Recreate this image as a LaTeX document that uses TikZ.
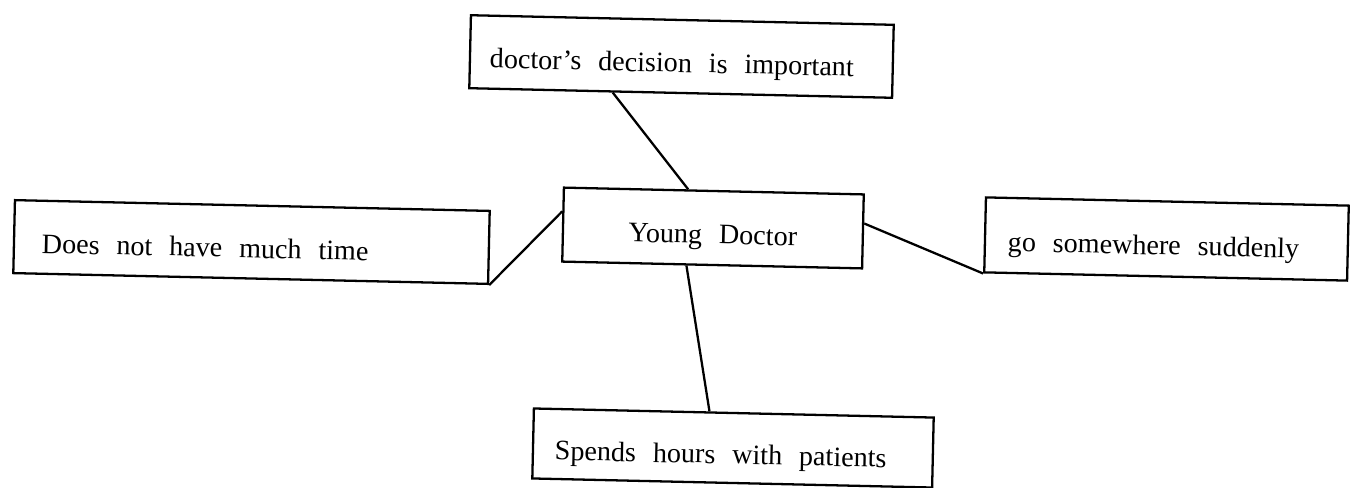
\documentclass[tikz,border=0pt]{standalone}
\usepackage{fontspec}
\setmainfont{Liberation Serif}
\newcommand\wordgap{\spaceskip=0.6em\relax}

\begin{document}
\begin{tikzpicture}[x=0.02cm,y=-0.02cm,
  box/.style={draw,line width=1.3pt,font=\fontsize{16}{19}\selectfont,
    execute at begin node=\wordgap,rotate=-1.3,
    text height=21pt,text depth=3pt,inner xsep=0pt,align=left},
  link/.style={line width=1.3pt}]
\useasboundingbox (0,0) rectangle (1351,487);

%枠
\node[box,minimum width=8.46cm,minimum height=1.46cm,text width=7.66cm] (dec) at (681.5,56.5) {doctor's decision is important};
\node[box,minimum width=6cm,minimum height=1.48cm,text width=6cm,align=center] (yd) at (713,228) {Young Doctor};
\node[box,minimum width=9.5cm,minimum height=1.46cm,text width=8.38cm] (time) at (251.5,242) {Does not have much time};
\node[box,minimum width=7.26cm,minimum height=1.5cm,text width=6.34cm] (go) at (1166.5,239) {go somewhere suddenly};
\node[box,minimum width=8cm,minimum height=1.4cm,text width=7.12cm] (pat) at (733,448) {Spends hours with patients};

%線
\draw[link] (dec.209) -- (yd.124);
\draw[link] (time.south east) -- (yd.175);
\draw[link] (yd.3) -- (go.south west);
\draw[link] (yd.236) -- (pat.124);
\end{tikzpicture}
\end{document}
